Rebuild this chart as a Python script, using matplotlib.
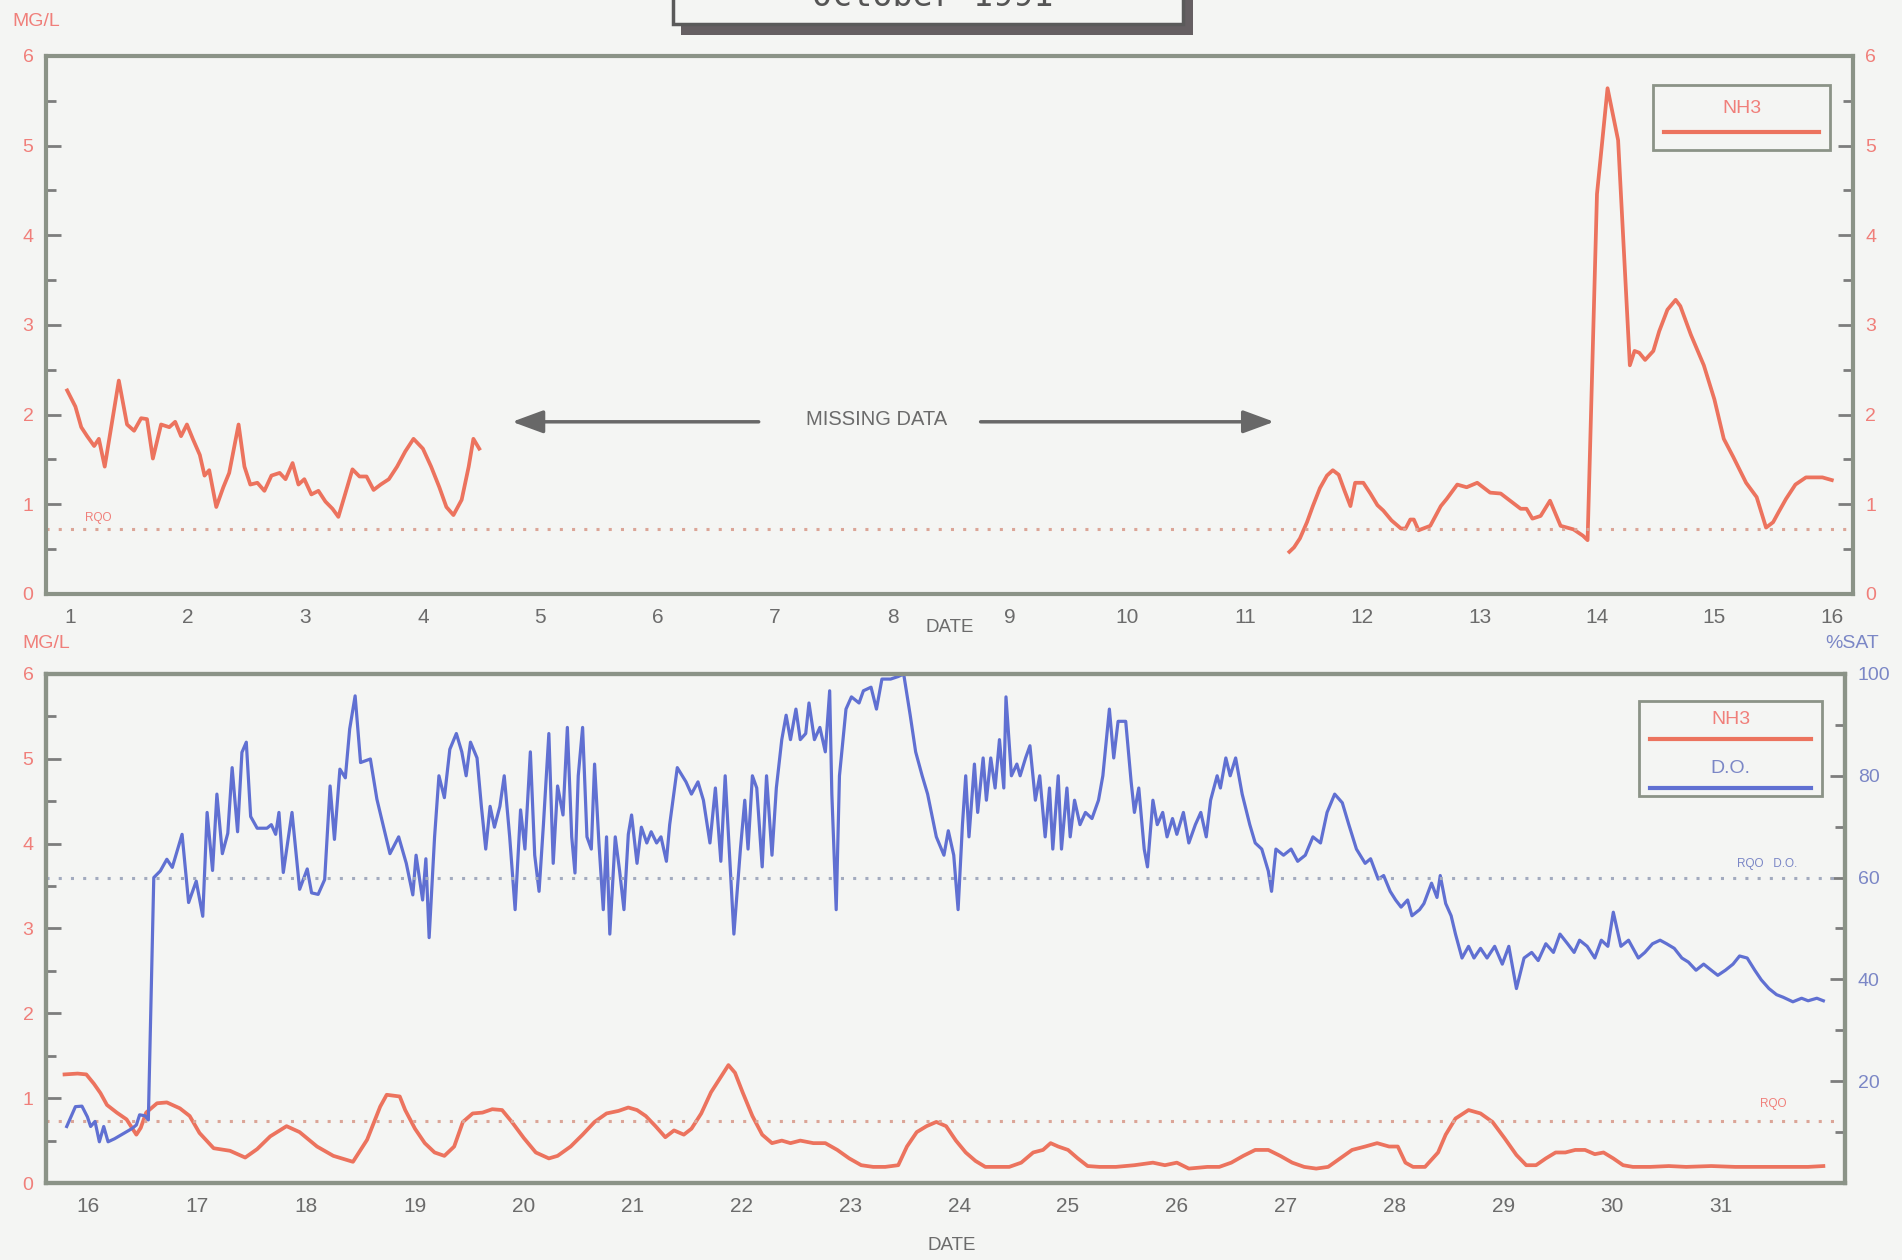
import matplotlib.pyplot as plt
from matplotlib.patches import Rectangle
from matplotlib.lines import Line2D
from matplotlib.ticker import MultipleLocator

plt.rcParams['font.family'] = ['Liberation Sans', 'DejaVu Sans']

# 1-16 October: ammonia (mg/l), two runs with missing data in between
nh3_a_day = [0.97, 1.04, 1.09, 1.14, 1.20, 1.24, 1.29, 1.34, 1.41, 1.48,
             1.54, 1.60, 1.65, 1.70, 1.77, 1.84, 1.89, 1.94, 1.99, 2.04,
             2.10, 2.14, 2.18, 2.24, 2.30, 2.35, 2.43, 2.48, 2.53, 2.59,
             2.65, 2.71, 2.78, 2.83, 2.89, 2.94, 2.99, 3.05, 3.11, 3.17,
             3.23, 3.28, 3.33, 3.40, 3.46, 3.52, 3.58, 3.64, 3.71, 3.78,
             3.85, 3.92, 4.00, 4.07, 4.14, 4.20, 4.26, 4.33, 4.39, 4.43,
             4.48]
nh3_a_val = [2.27, 2.09, 1.86, 1.76, 1.65, 1.73, 1.42, 1.82, 2.38, 1.89,
             1.82, 1.96, 1.95, 1.51, 1.89, 1.86, 1.92, 1.76, 1.89, 1.73,
             1.55, 1.32, 1.38, 0.97, 1.19, 1.35, 1.89, 1.42, 1.22, 1.24,
             1.15, 1.32, 1.35, 1.28, 1.46, 1.22, 1.28, 1.11, 1.15, 1.03,
             0.95, 0.86, 1.08, 1.39, 1.31, 1.31, 1.16, 1.22, 1.28, 1.42,
             1.59, 1.73, 1.62, 1.42, 1.19, 0.97, 0.88, 1.05, 1.42, 1.73,
             1.62]

nh3_b_day = [11.38, 11.42, 11.47, 11.53, 11.58, 11.64, 11.70, 11.75, 11.80, 11.85,
             11.90, 11.94, 12.01, 12.07, 12.13, 12.18, 12.25, 12.33, 12.37, 12.41,
             12.44, 12.48, 12.58, 12.67, 12.72, 12.81, 12.89, 12.98, 13.09, 13.18,
             13.26, 13.35, 13.40, 13.45, 13.52, 13.60, 13.69, 13.80, 13.88, 13.92,
             14.00, 14.09, 14.18, 14.28, 14.32, 14.36, 14.41, 14.48, 14.53, 14.60,
             14.67, 14.71, 14.80, 14.91, 15.00, 15.08, 15.16, 15.27, 15.36, 15.44,
             15.50, 15.55, 15.61, 15.69, 15.78, 15.83, 15.92, 16.00]
nh3_b_val = [0.47, 0.52, 0.62, 0.80, 0.98, 1.18, 1.32, 1.38, 1.33, 1.15,
             0.98, 1.24, 1.24, 1.12, 0.99, 0.93, 0.82, 0.73, 0.73, 0.83,
             0.83, 0.71, 0.76, 0.98, 1.06, 1.22, 1.19, 1.24, 1.13, 1.12,
             1.04, 0.95, 0.95, 0.84, 0.87, 1.04, 0.76, 0.72, 0.65, 0.60,
             4.46, 5.64, 5.06, 2.55, 2.71, 2.69, 2.61, 2.71, 2.93, 3.17,
             3.28, 3.21, 2.89, 2.55, 2.17, 1.73, 1.53, 1.24, 1.08, 0.74,
             0.80, 0.92, 1.06, 1.22, 1.30, 1.30, 1.30, 1.27]

# 16-31 October: ammonia (mg/l)
nh3_c_day = [15.78, 15.90, 15.98, 16.05, 16.11, 16.17, 16.26, 16.35, 16.44, 16.48,
             16.53, 16.63, 16.72, 16.84, 16.93, 17.02, 17.15, 17.30, 17.44, 17.55,
             17.67, 17.82, 17.94, 18.10, 18.25, 18.43, 18.56, 18.68, 18.74, 18.86,
             18.91, 19.00, 19.09, 19.18, 19.27, 19.36, 19.44, 19.53, 19.62, 19.71,
             19.80, 19.89, 20.00, 20.11, 20.23, 20.31, 20.43, 20.54, 20.65, 20.76,
             20.87, 20.96, 21.04, 21.12, 21.21, 21.30, 21.38, 21.47, 21.54, 21.63,
             21.72, 21.81, 21.88, 21.94, 22.01, 22.10, 22.19, 22.28, 22.37, 22.45,
             22.54, 22.66, 22.77, 22.88, 22.99, 23.10, 23.21, 23.32, 23.44, 23.52,
             23.61, 23.70, 23.79, 23.88, 23.97, 24.06, 24.15, 24.24, 24.35, 24.46,
             24.57, 24.68, 24.77, 24.84, 24.91, 25.00, 25.09, 25.18, 25.29, 25.44,
             25.61, 25.78, 25.89, 26.00, 26.11, 26.28, 26.39, 26.50, 26.61, 26.72,
             26.84, 26.95, 27.06, 27.17, 27.28, 27.39, 27.50, 27.61, 27.73, 27.84,
             27.95, 28.03, 28.10, 28.17, 28.28, 28.40, 28.47, 28.56, 28.68, 28.79,
             28.90, 29.01, 29.12, 29.21, 29.30, 29.39, 29.48, 29.57, 29.66, 29.75,
             29.84, 29.92, 30.01, 30.10, 30.19, 30.35, 30.52, 30.68, 30.91, 31.13,
             31.35, 31.57, 31.80, 31.94]
nh3_c_val = [1.28, 1.29, 1.28, 1.17, 1.06, 0.92, 0.83, 0.75, 0.57, 0.65,
             0.83, 0.94, 0.95, 0.88, 0.79, 0.59, 0.41, 0.38, 0.30, 0.40,
             0.55, 0.67, 0.60, 0.43, 0.32, 0.25, 0.51, 0.90, 1.04, 1.02,
             0.86, 0.64, 0.47, 0.36, 0.32, 0.43, 0.72, 0.82, 0.83, 0.87,
             0.86, 0.72, 0.53, 0.36, 0.29, 0.32, 0.43, 0.57, 0.72, 0.82,
             0.85, 0.89, 0.86, 0.79, 0.67, 0.54, 0.62, 0.57, 0.64, 0.82,
             1.07, 1.25, 1.39, 1.30, 1.07, 0.79, 0.57, 0.47, 0.50, 0.47,
             0.50, 0.47, 0.47, 0.39, 0.29, 0.21, 0.19, 0.19, 0.21, 0.43,
             0.60, 0.67, 0.72, 0.67, 0.50, 0.36, 0.26, 0.19, 0.19, 0.19,
             0.24, 0.36, 0.39, 0.47, 0.43, 0.39, 0.29, 0.20, 0.19, 0.19,
             0.21, 0.24, 0.21, 0.24, 0.17, 0.19, 0.19, 0.24, 0.32, 0.39,
             0.39, 0.32, 0.24, 0.19, 0.17, 0.19, 0.29, 0.39, 0.43, 0.47,
             0.43, 0.43, 0.24, 0.19, 0.19, 0.36, 0.57, 0.76, 0.86, 0.82,
             0.72, 0.53, 0.33, 0.21, 0.21, 0.29, 0.36, 0.36, 0.39, 0.39,
             0.34, 0.36, 0.29, 0.21, 0.19, 0.19, 0.20, 0.19, 0.20, 0.19,
             0.19, 0.19, 0.19, 0.20]

# 16-31 October: dissolved oxygen (% saturation)
do_day = [15.80, 15.88, 15.94, 15.99, 16.02, 16.06, 16.10, 16.14, 16.18, 16.24,
          16.32, 16.40, 16.44, 16.47, 16.52, 16.55, 16.60, 16.66, 16.72, 16.77,
          16.86, 16.92, 16.99, 17.05, 17.09, 17.14, 17.18, 17.23, 17.28, 17.32,
          17.37, 17.41, 17.45, 17.49, 17.55, 17.64, 17.68, 17.72, 17.75, 17.79,
          17.87, 17.94, 18.01, 18.05, 18.11, 18.17, 18.22, 18.26, 18.31, 18.36,
          18.40, 18.45, 18.50, 18.59, 18.65, 18.77, 18.85, 18.92, 18.98, 19.01,
          19.07, 19.10, 19.13, 19.18, 19.22, 19.27, 19.32, 19.38, 19.43, 19.47,
          19.51, 19.57, 19.61, 19.65, 19.69, 19.73, 19.78, 19.82, 19.87, 19.92,
          19.97, 20.01, 20.06, 20.10, 20.14, 20.18, 20.23, 20.27, 20.31, 20.36,
          20.40, 20.44, 20.47, 20.50, 20.54, 20.58, 20.62, 20.65, 20.69, 20.73,
          20.76, 20.79, 20.84, 20.88, 20.92, 20.96, 20.99, 21.04, 21.08, 21.13,
          21.17, 21.22, 21.26, 21.31, 21.34, 21.41, 21.49, 21.54, 21.60, 21.65,
          21.71, 21.76, 21.81, 21.85, 21.93, 21.99, 22.03, 22.06, 22.10, 22.14,
          22.19, 22.23, 22.28, 22.32, 22.37, 22.41, 22.45, 22.50, 22.54, 22.59,
          22.62, 22.67, 22.72, 22.77, 22.81, 22.83, 22.87, 22.90, 22.96, 23.01,
          23.08, 23.12, 23.19, 23.24, 23.29, 23.37, 23.44, 23.49, 23.55, 23.60,
          23.66, 23.71, 23.79, 23.86, 23.90, 23.95, 23.99, 24.03, 24.06, 24.09,
          24.14, 24.17, 24.22, 24.25, 24.29, 24.33, 24.37, 24.41, 24.43, 24.48,
          24.53, 24.56, 24.61, 24.65, 24.70, 24.74, 24.79, 24.83, 24.86, 24.91,
          24.94, 24.99, 25.02, 25.06, 25.11, 25.16, 25.22, 25.28, 25.32, 25.38,
          25.42, 25.46, 25.53, 25.58, 25.61, 25.65, 25.70, 25.73, 25.78, 25.82,
          25.87, 25.91, 25.96, 26.00, 26.06, 26.11, 26.17, 26.22, 26.27, 26.31,
          26.37, 26.40, 26.45, 26.49, 26.54, 26.60, 26.67, 26.72, 26.78, 26.84,
          26.87, 26.91, 26.98, 27.05, 27.11, 27.18, 27.25, 27.32, 27.38, 27.45,
          27.52, 27.58, 27.65, 27.73, 27.78, 27.85, 27.90, 27.96, 28.01, 28.06,
          28.12, 28.16, 28.23, 28.27, 28.34, 28.39, 28.42, 28.47, 28.52, 28.56,
          28.62, 28.68, 28.73, 28.79, 28.85, 28.92, 28.99, 29.05, 29.12, 29.19,
          29.26, 29.32, 29.39, 29.46, 29.52, 29.59, 29.65, 29.70, 29.77, 29.84,
          29.90, 29.96, 30.01, 30.08, 30.15, 30.24, 30.30, 30.37, 30.44, 30.50,
          30.57, 30.64, 30.70, 30.77, 30.84, 30.91, 30.97, 31.04, 31.11, 31.17,
          31.24, 31.31, 31.37, 31.44, 31.51, 31.57, 31.66, 31.74, 31.80, 31.88,
          31.94]
do_sat = [11.1, 15.0, 15.1, 13.0, 11.1, 12.1, 8.1, 11.1, 8.1, 8.7,
          9.7, 10.7, 11.4, 13.4, 13.2, 12.4, 60.0, 61.3, 63.6, 62.0,
          68.5, 55.1, 59.3, 52.4, 72.8, 61.4, 76.4, 64.7, 68.7, 81.6,
          69.0, 84.6, 86.6, 72.0, 69.7, 69.7, 70.4, 68.5, 72.8, 61.0,
          72.8, 57.7, 61.7, 57.0, 56.7, 59.6, 78.0, 67.5, 81.3, 79.6,
          89.2, 95.7, 82.6, 83.3, 75.4, 64.7, 68.0, 62.8, 56.6, 64.4,
          55.6, 63.7, 48.2, 68.0, 80.0, 75.7, 85.2, 88.3, 84.7, 80.0,
          86.6, 83.5, 74.0, 65.6, 74.0, 69.9, 74.0, 80.0, 68.0, 53.7,
          73.3, 65.6, 84.7, 64.4, 57.3, 70.4, 88.3, 62.8, 78.0, 72.3,
          89.5, 68.0, 60.9, 80.0, 89.5, 68.0, 65.6, 82.3, 66.8, 53.7,
          68.0, 48.9, 68.0, 61.3, 53.7, 68.5, 72.3, 62.8, 69.9, 66.8,
          69.0, 66.8, 68.0, 63.2, 70.4, 81.6, 78.8, 76.4, 78.8, 75.2,
          66.8, 77.6, 63.2, 80.0, 48.9, 65.6, 75.2, 65.6, 80.0, 77.6,
          62.1, 80.0, 64.4, 77.6, 87.1, 91.9, 87.1, 93.1, 87.1, 88.3,
          94.3, 87.1, 89.5, 84.7, 96.7, 76.4, 53.7, 80.0, 93.1, 95.5,
          94.3, 96.7, 97.4, 93.1, 99.0, 99.0, 99.5, 100.0, 91.9, 84.7,
          80.0, 76.4, 68.0, 64.4, 69.2, 64.4, 53.7, 70.4, 80.0, 68.0,
          82.3, 72.8, 83.5, 75.2, 83.5, 77.6, 87.1, 77.6, 95.5, 80.0,
          82.3, 80.0, 83.5, 85.9, 75.2, 80.0, 68.0, 77.6, 65.6, 80.0,
          65.6, 77.6, 68.0, 75.2, 70.4, 72.8, 71.6, 75.2, 80.0, 93.1,
          83.5, 90.7, 90.7, 78.8, 72.8, 77.6, 65.6, 62.1, 75.2, 70.4,
          72.8, 68.0, 71.6, 68.5, 72.8, 66.8, 70.4, 72.8, 68.0, 75.2,
          80.0, 77.6, 83.5, 80.0, 83.5, 76.4, 70.4, 66.8, 65.6, 61.3,
          57.3, 65.6, 64.4, 65.6, 63.2, 64.4, 68.0, 66.8, 72.8, 76.4,
          74.7, 70.4, 65.6, 62.8, 63.7, 59.7, 60.4, 57.3, 55.6, 54.2,
          55.6, 52.5, 53.7, 54.9, 58.9, 56.1, 60.4, 54.9, 52.5, 48.9,
          44.2, 46.5, 44.2, 46.1, 44.2, 46.5, 43.0, 46.5, 38.2, 44.2,
          45.3, 43.7, 47.0, 45.3, 48.9, 47.0, 45.3, 47.7, 46.5, 44.2,
          47.7, 46.5, 53.2, 46.5, 47.7, 44.2, 45.3, 47.0, 47.7, 47.0,
          46.1, 44.2, 43.4, 41.8, 43.0, 41.8, 40.8, 41.8, 43.0, 44.6,
          44.2, 41.8, 39.9, 38.2, 37.0, 36.5, 35.6, 36.3, 35.8, 36.3,
          35.8]

rqo_nh3 = 0.73   # mg/l
rqo_do = 60      # %sat
top_days = list(range(1, 17))
bottom_days = list(range(16, 32))

BG = '#f4f5f3'
RED = '#ec735e'
BLUE = '#6070d2'
FRAME = '#8b9387'
TXT_RED = '#f07f7a'
TXT_BLUE = '#7b87c6'
TXT_GREY = '#6b6b6b'
TICK = '#7d7d7d'


def frame(ax):
    ax.set_facecolor(BG)
    for s in ax.spines.values():
        s.set_color(FRAME)
        s.set_linewidth(3)


def yticks(ax, major, minor, color, left=True, right=False):
    ax.yaxis.set_major_locator(MultipleLocator(major))
    ax.yaxis.set_minor_locator(MultipleLocator(minor))
    ax.tick_params(axis='y', which='both', direction='in', color=TICK, width=2,
                   left=left, right=right, labelleft=left, labelright=right,
                   labelcolor=color, labelsize=14, pad=9)
    ax.tick_params(axis='y', which='major', length=11)
    ax.tick_params(axis='y', which='minor', length=7)


def legend_box(ax, x0, y0, x1, y1, entries):
    # entries: (label, text colour, line colour, text y, line y)
    ax.add_patch(Rectangle((x0, y0), x1 - x0, y1 - y0, transform=ax.transAxes,
                           fill=False, ec=FRAME, lw=2, zorder=5))
    for label, tc, lc, ty, ly in entries:
        ax.text((x0 + x1) / 2, ty, label, transform=ax.transAxes, ha='center',
                va='center', color=tc, fontsize=14, zorder=5)
        ax.add_line(Line2D([x0 + 0.006, x1 - 0.006], [ly, ly], transform=ax.transAxes,
                           color=lc, lw=3, zorder=5))


fig = plt.figure(figsize=(19.02, 12.6), dpi=100, facecolor=BG)

# ---------- upper panel: 1-16 October ----------
ax1 = fig.add_axes([0.0242, 0.5286, 0.950, 0.427])
frame(ax1)
ax1.plot(nh3_a_day, nh3_a_val, color=RED, lw=2.7)
ax1.plot(nh3_b_day, nh3_b_val, color=RED, lw=2.7)
ax1.axhline(rqo_nh3, color='#dba597', lw=2.2, ls=(0, (1, 3)))
ax1.text(1.12, 0.85, 'RQO', color=TXT_RED, fontsize=8.5, va='center')
ax1.set_xlim(0.79, 16.18)
ax1.set_ylim(0, 6)
ax1.set_xticks(top_days)
ax1.tick_params(axis='x', length=0, pad=10, labelsize=15, labelcolor=TXT_GREY)
yticks(ax1, 1, 0.5, TXT_RED, left=True, right=True)

ax1.text(7.86, 1.95, 'MISSING DATA', ha='center', va='center', fontsize=14.5, color=TXT_GREY)
arrow = dict(arrowstyle='-|>,head_length=0.95,head_width=0.35', mutation_scale=20,
             color='#686868', lw=2.5, shrinkA=0, shrinkB=0)
ax1.annotate('', xy=(4.76, 1.92), xytext=(6.86, 1.92), arrowprops=arrow)
ax1.annotate('', xy=(11.25, 1.92), xytext=(8.75, 1.92), arrowprops=arrow)

legend_box(ax1, 0.8893, 0.8253, 0.9873, 0.9461,
           [('NH3', TXT_RED, RED, 0.9015, 0.8587)])

# ---------- lower panel: 16-31 October ----------
ax2 = fig.add_axes([0.0242, 0.0611, 0.9459, 0.404])
frame(ax2)
ax2.plot(nh3_c_day, nh3_c_val, color=RED, lw=2.7)
ax2.axhline(rqo_nh3, color='#dba597', lw=2.2, ls=(0, (1, 3)))
ax2.text(31.48, 0.93, 'RQO', color=TXT_RED, fontsize=8.5, ha='center', va='center')
ax2.set_xlim(15.61, 32.14)
ax2.set_ylim(0, 6)
ax2.set_xticks(bottom_days)
ax2.tick_params(axis='x', length=0, pad=10, labelsize=15, labelcolor=TXT_GREY)
yticks(ax2, 1, 0.5, TXT_RED, left=True, right=False)

ax2r = ax2.twinx()
frame(ax2r)
ax2r.patch.set_visible(False)
ax2r.plot(do_day, do_sat, color=BLUE, lw=2.3)
ax2r.axhline(rqo_do, color='#a3abbf', lw=2.2, ls=(0, (1, 3)))
ax2r.text(31.42, 62.6, 'RQO   D.O.', color=TXT_BLUE, fontsize=8.5, ha='center', va='center')
ax2r.set_ylim(0, 100)
yticks(ax2r, 20, 10, TXT_BLUE, left=False, right=True)
ax2r.set_yticks([20, 40, 60, 80, 100])

legend_box(ax2, 0.8855, 0.7603, 0.9872, 0.947,
           [('NH3', TXT_RED, RED, 0.9096, 0.8723),
            ('D.O.', TXT_BLUE, BLUE, 0.8134, 0.776)])

# ---------- axis captions ----------
fig.text(12 / 1902, 1 - 22 / 1260, 'MG/L', color=TXT_RED, fontsize=14, va='center')
fig.text(22 / 1902, 1 - 644 / 1260, 'MG/L', color=TXT_RED, fontsize=14, va='center')
fig.text(1852 / 1902, 1 - 643 / 1260, '%SAT', color=TXT_BLUE, fontsize=14, ha='center', va='center')
fig.text(950 / 1902, 1 - 628 / 1260, 'DATE', color=TXT_GREY, fontsize=13.5, ha='center', va='center')
fig.text(952 / 1902, 1 - 1246 / 1260, 'DATE', color=TXT_GREY, fontsize=13.5, ha='center', va='center')

# title box with drop shadow, cut by the top edge
fig.add_artist(Rectangle((681 / 1902, 1 - 35 / 1260), 512 / 1902, 0.08,
                         transform=fig.transFigure, fc='#655f62', ec='none'))
fig.add_artist(Rectangle((673 / 1902, 1 - 24 / 1260), 510 / 1902, 0.08,
                         transform=fig.transFigure, fc=BG, ec='#5a5a5a', lw=2.5))
fig.text(933 / 1902, 1 + 3 / 1260, 'October 1991', family='DejaVu Sans Mono',
         fontsize=24, ha='center', va='center', color='#555555')

fig.savefig('out.png', dpi=100, facecolor=BG)
